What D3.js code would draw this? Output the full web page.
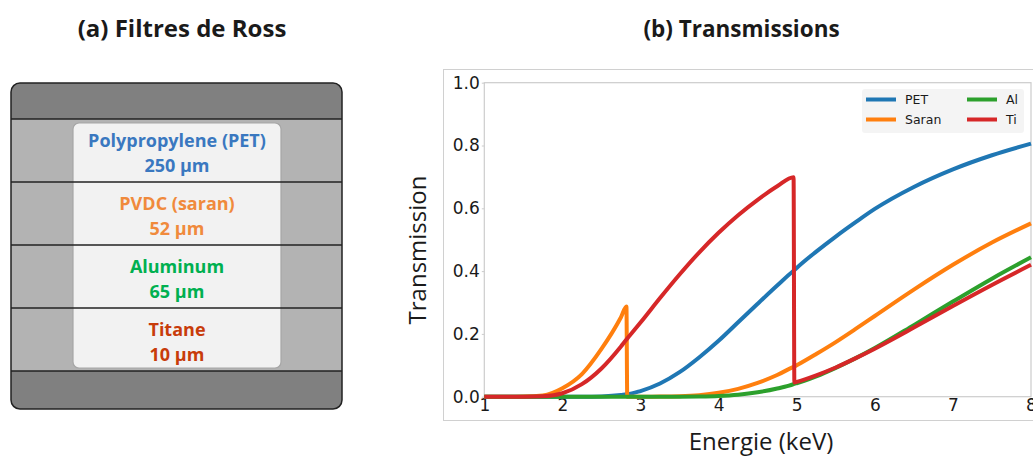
<!DOCTYPE html>
<html><head><meta charset="utf-8">
<script src="https://cdn.jsdelivr.net/npm/d3@7"></script>
<style>body{margin:0;background:#fff}svg{display:block}</style>
</head><body>
<svg id="c" width="1033" height="456"></svg>
<script>
// ---------- data ----------
const layerNames = ["Polypropylene (PET)", "PVDC (saran)", "Aluminum", "Titane"];
const layerThickness = ["250 µm", "52 µm", "65 µm", "10 µm"];
const layerColors = ["#3a78c0", "#f08a3c", "#00b050", "#c83c0a"];

const energies = [1,1.25,1.5,1.75,2,2.25,2.5,2.75,2.82,2.83,3,3.25,3.5,3.75,4,4.25,4.5,4.75,4.96,4.97,5,5.25,5.5,5.75,6,6.5,7,7.5,8];
const petT   = [0,0,0,0,0,0,0.001,0.0055,0.008,0.0081,0.018,0.042,0.078,0.125,0.178,0.237,0.296,0.354,0.401,0.403,0.41,0.462,0.51,0.555,0.598,0.668,0.724,0.769,0.806];
const saranT = [0,0,0.0003,0.004,0.027,0.072,0.152,0.253,0.287,0,0,0.0003,0.0015,0.005,0.0123,0.025,0.044,0.069,0.095,0.096,0.1,0.136,0.174,0.215,0.257,0.341,0.42,0.491,0.552];
const alT    = [0,0,0,0,0,0,0,0,0,0,0,0,0.0002,0.0008,0.0025,0.0065,0.014,0.026,0.04,0.041,0.043,0.065,0.092,0.122,0.155,0.228,0.303,0.376,0.444];
const tiT    = [0,0,0.0001,0.0015,0.011,0.04,0.09,0.16,0.182,0.185,0.236,0.314,0.389,0.459,0.522,0.578,0.627,0.67,0.699,0.045,0.047,0.068,0.093,0.122,0.153,0.22,0.289,0.356,0.42];
const seriesNames = ["PET", "Saran", "Al", "Ti"];
const seriesValues = [petT, saranT, alT, tiT];
const seriesColors = ["#1f77b4", "#ff7f0e", "#2ca02c", "#d62728"];
const xTicks = [1,2,3,4,5,6,7,8];
const yTicks = [0,0.2,0.4,0.6,0.8,1.0];

const svg = d3.select("#c");

// ---------- panel (a) ----------
svg.append("text").attr("x", 182).attr("y", 36.5).attr("text-anchor", "middle")
  .attr("font-family", "Open Sans").attr("font-weight", "bold").attr("font-size", 24)
  .attr("fill", "#1a1a1a").text("(a) Filtres de Ross");

const bx0 = 11, bx1 = 342, by0 = 83, by1 = 409;
const rowY = [119, 182, 245, 308, 371];
const clipA = svg.append("clipPath").attr("id", "clipA");
clipA.append("rect").attr("x", bx0).attr("y", by0).attr("width", bx1 - bx0).attr("height", by1 - by0).attr("rx", 9);
const ga = svg.append("g").attr("clip-path", "url(#clipA)");
ga.append("rect").attr("x", bx0).attr("y", by0).attr("width", bx1 - bx0).attr("height", by1 - by0).attr("fill", "#808080");
ga.append("rect").attr("x", bx0).attr("y", rowY[0]).attr("width", bx1 - bx0).attr("height", rowY[4] - rowY[0]).attr("fill", "#b3b3b3");
ga.append("rect").attr("x", 73).attr("y", 123).attr("width", 208).attr("height", 245).attr("rx", 6)
  .attr("fill", "#f2f2f2").attr("stroke", "#a6a6a6").attr("stroke-width", 1.2);
ga.selectAll("line.row").data(rowY).join("line").attr("class", "row")
  .attr("x1", bx0).attr("x2", bx1).attr("y1", d => d).attr("y2", d => d)
  .attr("stroke", "#222").attr("stroke-width", 1.5);
svg.append("rect").attr("x", bx0).attr("y", by0).attr("width", bx1 - bx0).attr("height", by1 - by0).attr("rx", 9)
  .attr("fill", "none").attr("stroke", "#222").attr("stroke-width", 1.5);

layerNames.forEach((n, i) => {
  const y0 = rowY[i];
  svg.append("text").attr("x", 177).attr("y", y0 + 28).attr("text-anchor", "middle")
    .attr("font-family", "Open Sans").attr("font-weight", "bold").attr("font-size", 18)
    .attr("fill", layerColors[i]).text(n);
  svg.append("text").attr("x", 177).attr("y", y0 + 53).attr("text-anchor", "middle")
    .attr("font-family", "Open Sans").attr("font-weight", "bold").attr("font-size", 18)
    .attr("fill", layerColors[i]).text(layerThickness[i]);
});

// ---------- panel (b) ----------
svg.append("text").attr("x", 741.5).attr("y", 36.5).attr("text-anchor", "middle")
  .attr("font-family", "Open Sans").attr("font-weight", "bold").attr("font-size", 22.5)
  .attr("fill", "#1a1a1a").text("(b) Transmissions");

svg.append("rect").attr("x", 443.5).attr("y", 69.5).attr("width", 620).attr("height", 351)
  .attr("fill", "none").attr("stroke", "#d0d0d0").attr("stroke-width", 1);

const x = d3.scaleLinear().domain([1, 8]).range([484.3, 1031]);
const y = d3.scaleLinear().domain([0, 1]).range([396.7, 82.7]);

svg.append("rect").attr("x", x(1)).attr("y", y(1)).attr("width", x(8) - x(1)).attr("height", y(0) - y(1))
  .attr("fill", "none").attr("stroke", "#cccccc").attr("stroke-width", 1.2);

const gx = svg.append("g").attr("transform", `translate(0,${y(0)})`)
  .call(d3.axisBottom(x).tickValues(xTicks).tickSize(0).tickPadding(2).tickFormat(d3.format("d")));
gx.select(".domain").remove();
gx.selectAll("text").attr("font-family", "DejaVu Sans").attr("font-size", 17).attr("fill", "#1a1a1a");

const gy = svg.append("g").attr("transform", `translate(${x(1)},0)`)
  .call(d3.axisLeft(y).tickValues(yTicks).tickSize(2.5).tickPadding(2).tickFormat(d3.format(".1f")));
gy.select(".domain").remove();
gy.selectAll("line").attr("stroke", "#cccccc");
gy.selectAll("text").attr("font-family", "DejaVu Sans").attr("font-size", 17).attr("fill", "#1a1a1a");

svg.append("text").attr("transform", `translate(425.5,250) rotate(-90)`).attr("text-anchor", "middle")
  .attr("font-family", "Open Sans").attr("font-size", 24).attr("fill", "#1a1a1a").text("Transmission");
svg.append("text").attr("x", 761).attr("y", 449.5).attr("text-anchor", "middle")
  .attr("font-family", "Open Sans").attr("font-size", 24).attr("fill", "#1a1a1a").text("Energie (keV)");

const line = d3.line().x(d => x(d[0])).y(d => y(d[1])).curve(d3.curveMonotoneX);
seriesValues.forEach((vals, i) => {
  svg.append("path").datum(energies.map((e, k) => [e, vals[k]]))
    .attr("d", line).attr("fill", "none").attr("stroke", seriesColors[i])
    .attr("stroke-width", 4).attr("stroke-linejoin", "round");
});

// legend
const lg = svg.append("g");
lg.append("rect").attr("x", 862).attr("y", 89).attr("width", 162).attr("height", 44).attr("rx", 3)
  .attr("fill", "#f3f3f3").attr("fill-opacity", 0.9);
const legPos = [[866, 99.5], [866, 119.5], [967, 99.5], [967, 119.5]];
seriesNames.forEach((n, i) => {
  const [lx, ly] = legPos[i];
  lg.append("line").attr("x1", lx).attr("x2", lx + 30).attr("y1", ly).attr("y2", ly)
    .attr("stroke", seriesColors[i]).attr("stroke-width", 4);
  lg.append("text").attr("x", lx + 39).attr("y", ly + 4.5).attr("font-family", "DejaVu Sans")
    .attr("font-size", 12.5).attr("fill", "#1a1a1a").text(n);
});
</script>
</body></html>
